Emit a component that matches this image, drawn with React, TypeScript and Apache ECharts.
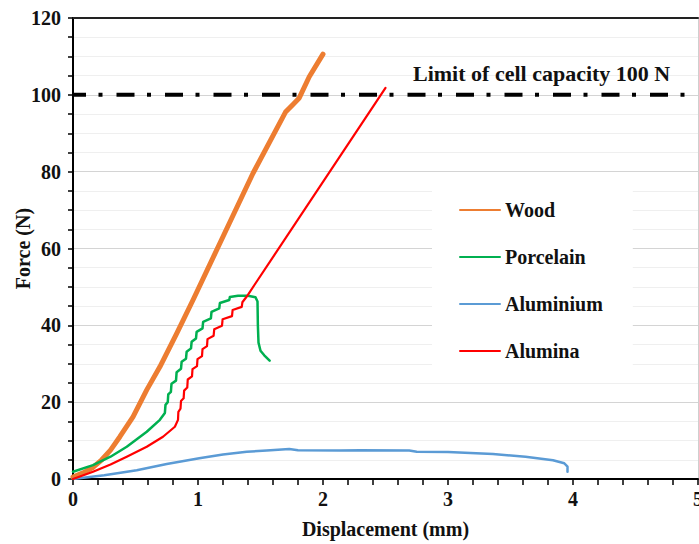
import React, { useEffect, useRef } from "react";
import * as echarts from "echarts";

const seriesNames = ["Wood", "Porcelain", "Aluminium", "Alumina"];
const seriesColors = ["#ED7D31", "#00B050", "#5B9BD5", "#FF0000"];

const wood: [number, number][] = [
  [0, 0.5], [0.08, 1.6], [0.16, 3], [0.23, 5], [0.3, 7.5], [0.375, 11], [0.48, 16.2], [0.59, 23.2], [0.695, 29.2],
  [0.83, 37.9], [0.96, 46.6], [1.174, 61.3], [1.44, 79.6], [1.7, 95.5], [1.76, 97.5],
  [1.81, 99.2], [1.89, 104.7], [2.0, 110.6],
];

const porcelain: [number, number][] = [
  [0, 1.9], [0.16, 3.6], [0.3, 5.8], [0.43, 8.4], [0.59, 12.3], [0.695, 15.4], [0.735, 17.2],
  [0.74, 19.3], [0.758, 20.0], [0.762, 22.0], [0.783, 22.7], [0.788, 24.8], [0.824, 25.6],
  [0.829, 27.8], [0.864, 28.7], [0.869, 30.5], [0.904, 31.3], [0.909, 33.1], [0.944, 34.0],
  [0.949, 35.7], [0.984, 36.6], [0.989, 38.3], [1.036, 39.2], [1.041, 40.9], [1.103, 41.8],
  [1.108, 43.5], [1.17, 44.4], [1.175, 45.8], [1.25, 46.6], [1.255, 47.4], [1.32, 47.7],
  [1.4, 47.7], [1.46, 47.3], [1.476, 46.2], [1.479, 40], [1.484, 35.5], [1.5, 33.4],
  [1.53, 32.2], [1.573, 30.8],
];

const aluminium: [number, number][] = [
  [0, 0], [0.25, 1.0], [0.51, 2.3], [0.75, 3.9], [1.01, 5.4], [1.2, 6.4], [1.39, 7.1],
  [1.55, 7.4], [1.73, 7.8], [1.8, 7.5], [2.13, 7.4], [2.3, 7.5], [2.69, 7.4], [2.75, 7.1],
  [3.0, 7.0], [3.36, 6.5], [3.62, 5.8], [3.84, 4.9], [3.93, 4.1], [3.956, 3.2], [3.956, 1.9],
];

const alumina: [number, number][] = [
  [0, 0], [0.16, 1.9], [0.3, 3.8], [0.43, 5.8], [0.59, 8.4], [0.72, 11], [0.815, 13.6],
  [0.84, 15.4], [0.843, 17.5], [0.86, 18.3], [0.864, 20.3], [0.885, 21.0], [0.889, 23.0],
  [0.914, 23.8], [0.918, 25.9], [0.952, 26.7], [0.956, 28.6], [0.992, 29.4], [0.996, 31.2],
  [1.032, 32.0], [1.036, 33.8], [1.072, 34.6], [1.076, 36.4], [1.125, 37.3], [1.13, 39.0],
  [1.192, 39.9], [1.197, 41.6], [1.272, 42.4], [1.277, 44.0], [1.35, 44.8], [1.355, 46.0],
  [1.39, 47.5], [2.5, 101.8],
];

const limitLine: [number, number][] = [[0, 100], [5, 100]];
const limitText = "Limit of cell capacity 100 N";

const xTitle = "Displacement (mm)";
const yTitle = "Force (N)";

const FONT = '"Liberation Serif", "Times New Roman", serif';

export default function App() {
  const ref = useRef<HTMLDivElement>(null);
  useEffect(() => {
    if (!ref.current) return;
    const chart = echarts.init(ref.current, undefined, { renderer: "svg" });
    const dataSets = [wood, porcelain, aluminium, alumina];
    const widths = [5, 2.5, 2.5, 2.2];
    const labelStyle = { fontFamily: FONT, fontWeight: "bold" as const, fontSize: 20, color: "#111" };
    chart.setOption({
      animation: false,
      backgroundColor: "#fff",
      grid: { left: 73, right: 1, top: 18, bottom: 65, containLabel: false, outerBoundsMode: "none" },
      xAxis: [
        {
          type: "value",
          min: 0,
          max: 5,
          interval: 1,
          name: xTitle,
          nameLocation: "middle",
          nameGap: 40,
          nameMoveOverlap: false,
          nameTextStyle: { ...labelStyle, verticalAlign: "top" },
          axisLine: { show: true, onZero: false, lineStyle: { color: "#000", width: 2 } },
          axisTick: { show: true, inside: false, length: 6, lineStyle: { color: "#000", width: 1.5 } },
          minorTick: { show: true, splitNumber: 5, length: 6, lineStyle: { color: "#000", width: 1.5 } },
          axisLabel: { ...labelStyle, margin: 10 },
          splitLine: { show: false },
        },
        {
          type: "value",
          position: "top",
          min: 0,
          max: 5,
          axisLine: { show: true, onZero: false, lineStyle: { color: "#222", width: 2 } },
          axisTick: { show: false },
          axisLabel: { show: false },
          splitLine: { show: false },
        },
      ],
      yAxis: [
        {
          type: "value",
          min: 0,
          max: 120,
          interval: 20,
          name: yTitle,
          nameLocation: "middle",
          nameGap: 40,
          nameMoveOverlap: false,
          nameTextStyle: labelStyle,
          axisLine: { show: true, onZero: false, lineStyle: { color: "#000", width: 2 } },
          axisTick: { show: true, inside: false, length: 5, lineStyle: { color: "#000", width: 1.5 } },
          minorTick: { show: true, splitNumber: 4, length: 5, lineStyle: { color: "#000", width: 1.5 } },
          axisLabel: { ...labelStyle, margin: 12 },
          splitLine: { show: true, lineStyle: { color: "#d4d4d4", width: 1 } },
          minorSplitLine: { show: true, lineStyle: { color: "#efefef", width: 1 } },
        },
        {
          type: "value",
          position: "right",
          min: 0,
          max: 120,
          axisLine: { show: true, onZero: false, lineStyle: { color: "#cfcfcf", width: 1 } },
          axisTick: { show: false },
          axisLabel: { show: false },
          splitLine: { show: false },
        },
      ],
      legend: {
        data: seriesNames,
        orient: "vertical",
        left: 432,
        top: 187,
        backgroundColor: "#fff",
        padding: [13, 30, 16, 27],
        itemWidth: 40,
        itemHeight: 14,
        itemGap: 27,
        itemStyle: { opacity: 0 },
        textStyle: { ...labelStyle, lineHeight: 20 },
      },
      graphic: [
        {
          type: "text",
          left: 413,
          top: 62,
          z: 10,
          style: { text: limitText, font: `bold 22px ${FONT}`, fill: "#111" },
        },
      ],
      series: [
        {
          name: "limit",
          type: "line",
          data: limitLine,
          symbol: "none",
          silent: true,
          z: 1,
          lineStyle: { color: "#000", width: 4, type: [18, 12.5, 4, 14], dashOffset: 4.5 },
        },
        ...seriesNames.map((name, i) => ({
          name,
          type: "line",
          data: dataSets[i],
          symbol: "none",
          smooth: false,
          z: 3 + (i === 3 ? 1 : 0),
          color: seriesColors[i],
          lineStyle: { color: seriesColors[i], width: widths[i], cap: "round", join: "round" },
        })),
      ],
    });
    return () => chart.dispose();
  }, []);
  return <div ref={ref} style={{ position: "fixed", left: 0, top: 0, width: 699, height: 544 }} />;
}
